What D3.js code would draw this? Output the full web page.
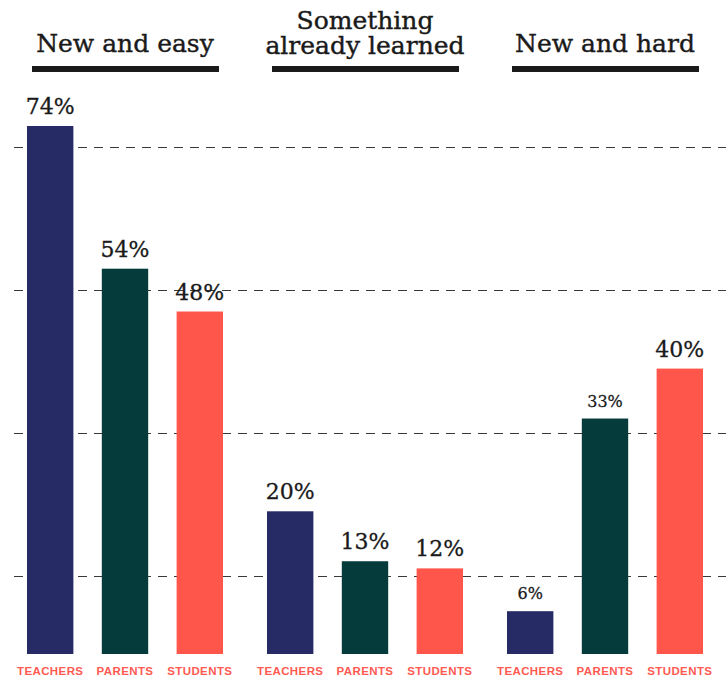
<!DOCTYPE html>
<html>
<head>
<meta charset="utf-8">
<script src="https://cdn.jsdelivr.net/npm/d3@7"></script>
<style>
  body { margin: 0; background: #fff; }
  svg { display: block; }
</style>
</head>
<body>
<script>
    "use strict";
    // data
    const groups = ["New and easy", "Something already learned", "New and hard"];
    const groupTitles = [["New and easy"], ["Something", "already learned"], ["New and hard"]];
    const roles = ["TEACHERS", "PARENTS", "STUDENTS"];
    const teachers = [74, 20, 6];
    const parents = [54, 13, 33];
    const students = [48, 12, 40];
    const gridValues = [11, 31, 51, 71];
    // smaller labels for a couple of values
    const smallLabels = ["New and hard|TEACHERS", "New and hard|PARENTS"];

    const width = 726;
    const height = 680;
    const colors = ["#262b65", "#053b3a", "#ff564c"];

    const svg = d3.select("body").append("svg")
        .attr("width", width).attr("height", height);

    const yScale = d3.scaleLinear().domain([0, 74]).range([654, 126]);
    const groupScale = d3.scalePoint().domain(groups).range([27, 507]);
    const color = d3.scaleOrdinal().domain(roles).range(colors);
    const xScale = d3.scaleBand().domain(roles).range([0, 196]).paddingInner(0.38).paddingOuter(0);
    const groupMid = 98;

    // gridlines
    svg.selectAll(".grid").data(gridValues).enter()
        .append("line").attr("class", "grid")
        .attr("x1", 14).attr("x2", width)
        .attr("y1", d => Math.round(yScale(d)) + 0.5).attr("y2", d => Math.round(yScale(d)) + 0.5)
        .attr("stroke", "#3a3a3a").attr("stroke-width", 1)
        .attr("stroke-dasharray", "9,7");

    const rows = groups.map((g, i) => ({
        group: g,
        values: [teachers[i], parents[i], students[i]]
    }));

    const g = svg.selectAll(".group").data(rows).enter()
        .append("g").attr("class", "group")
        .attr("transform", d => "translate(" + groupScale(d.group) + ",0)");

    // titles (one text element, lines as tspans)
    g.each(function (d, i) {
        const lines = groupTitles[i];
        const sel = d3.select(this);
        const title = sel.append("text")
            .attr("text-anchor", "middle")
            .attr("font-family", "'DejaVu Serif', serif")
            .attr("font-size", 25)
            .attr("fill", "#1a1a1a")
            .attr("stroke", "#1a1a1a").attr("stroke-width", 0.4);
        lines.forEach((line, j) => {
            title.append("tspan")
                .attr("x", groupMid)
                .attr("y", lines.length === 1 ? 52 : 29 + j * 25)
                .text(line);
        });
        sel.append("rect")
            .attr("x", groupMid - 93).attr("y", 66)
            .attr("width", 187).attr("height", 6)
            .attr("fill", "#1a1a1a");
    });

    // bars
    const bars = g.selectAll(".bar").data(d => roles.map((r, k) => ({ group: d.group, role: r, value: d.values[k] })))
        .enter();

    bars.append("rect").attr("class", "bar")
        .attr("x", d => xScale(d.role))
        .attr("width", xScale.bandwidth())
        .attr("y", d => yScale(d.value))
        .attr("height", d => yScale(0) - yScale(d.value))
        .attr("fill", d => color(d.role));

    bars.append("text")
        .attr("x", d => xScale(d.role) + xScale.bandwidth() / 2)
        .attr("y", d => yScale(d.value) - 12)
        .attr("text-anchor", "middle")
        .attr("font-family", "'DejaVu Serif', serif")
        .attr("font-size", d => smallLabels.includes(d.group + "|" + d.role) ? 16 : 22)
        .attr("fill", "#1a1a1a")
        .attr("stroke", "#1a1a1a").attr("stroke-width", 0.3)
        .text(d => d.value + "%");

    bars.append("text")
        .attr("x", d => xScale(d.role) + xScale.bandwidth() / 2)
        .attr("y", 675)
        .attr("text-anchor", "middle")
        .attr("font-family", "'Liberation Sans', Arial, sans-serif")
        .attr("font-size", 11.5)
        .attr("font-weight", "bold")
        .attr("letter-spacing", 0.4)
        .attr("fill", "#ff5a52")
        .text(d => d.role);
</script>
</body>
</html>
